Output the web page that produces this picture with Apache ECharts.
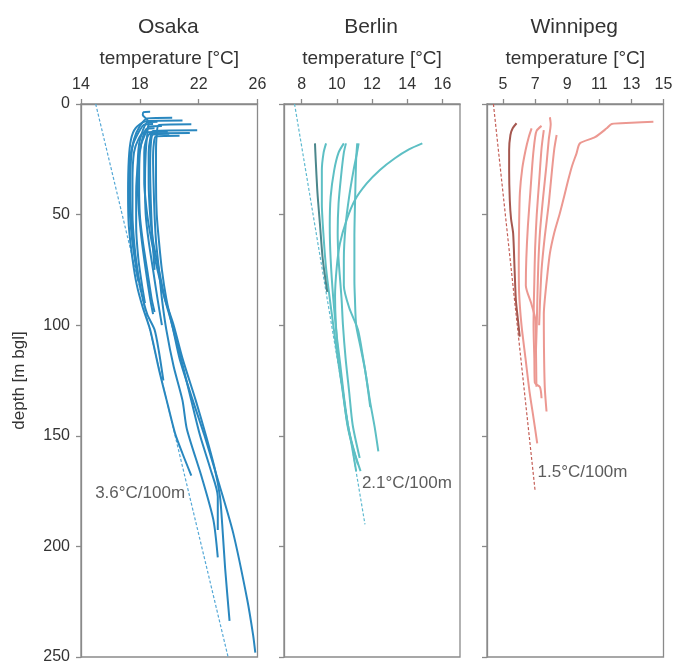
<!DOCTYPE html>
<html>
<head>
<meta charset="utf-8">
<script src="https://cdn.jsdelivr.net/npm/echarts@6/dist/echarts.min.js"></script>
<style>html,body{margin:0;padding:0;background:#fff}#c{width:673px;height:661px}</style>
</head>
<body>
<div id="c"></div>
<script>
// ---------------- data ----------------
const cities = ['Osaka', 'Berlin', 'Winnipeg'];
const depthTicks = [0, 50, 100, 150, 200, 250];
const osakaTicks = [14, 18, 22, 26];
const berlinTicks = [8, 10, 12, 14, 16];
const winnipegTicks = [5, 7, 9, 11, 13, 15];
const tempRanges = [[14, 26], [7, 17], [4, 15]];

// profiles: [temperature °C, depth m]
const osakaProfiles = [
  [[21.9,11.9],[18.9,12.2],[18.7,16],[18.6,22],[18.6,35],[18.7,50],[18.9,62],[19.3,75],[19.7,88],[20.2,100],[20.7,115],[21.6,134],[22.4,150],[23.4,172],[24.35,194],[25.3,224],[25.7,240],[25.85,248]],
  [[21.4,13.1],[18.7,13.4],[18.4,17],[18.3,22],[18.3,35],[18.5,50],[18.8,62],[19.2,75],[19.7,88],[20.3,100],[20.9,115],[21.8,134],[22.5,150],[23.1,165],[23.45,177.5],[23.6,190],[23.8,210],[24.1,233.7]],
  [[20.7,14.3],[19.1,14.6],[18.95,18],[18.9,25],[18.95,40],[19.0,50],[19.1,62],[19.3,75],[19.5,88],[19.8,102],[20.3,118.7],[20.9,134],[21.2,147],[22.2,168.5],[23.0,188],[23.3,205]],
  [[21.5,9.2],[19.3,9.5],[19.15,14],[19.1,22],[19.1,35],[19.15,50],[19.3,62],[19.5,75],[19.8,88],[20.2,100],[20.8,115],[21.5,134],[22.1,150],[22.8,165],[23.3,177.5],[23.3,192.6]],
  [[20.9,7.5],[18.4,7.8],[17.7,11],[17.4,16],[17.25,25],[17.2,40],[17.25,55],[17.5,70],[17.8,82],[18.2,92],[18.7,102],[19.3,120],[19.9,136],[20.4,149],[20.9,158],[21.5,168]],
  [[20.2,6.2],[18.5,6.5],[18.0,10],[17.6,16],[17.4,25],[17.35,40],[17.45,55],[17.7,70],[18.1,85],[18.5,95],[19.0,102],[19.3,112],[19.6,125]],
  [[18.7,3.5],[18.25,3.7],[18.2,5],[18.5,7],[18.6,9],[18.4,13],[18.1,18],[17.9,25],[17.75,40],[17.75,55],[17.9,70],[18.15,82],[18.35,90]],
  [[19.9,12.5],[18.3,12.8],[17.9,16],[17.6,22],[17.5,35],[17.5,50],[17.65,65],[17.9,78],[18.1,85]],
  [[19.5,10],[18.6,10.3],[18.5,14],[18.4,22],[18.35,35],[18.4,50],[18.6,62],[18.9,75],[19.2,88],[19.5,100]],
  [[19.2,8],[18.5,8.3],[18.2,12],[17.95,18],[17.85,30],[17.9,45],[18.1,60],[18.4,75],[18.7,88],[18.9,95]],
  [[20.0,13.5],[18.9,13.8],[18.75,18],[18.7,28],[18.75,45],[18.85,60],[19.0,75]],
  [[19.0,11],[18.45,11.3],[18.2,15],[18.0,22],[17.95,35],[18.0,50],[18.2,62],[18.5,75],[18.8,88],[19.0,94]],
  [[18.9,9],[18.3,9.3],[17.9,13],[17.5,19],[17.3,28],[17.3,45],[17.45,60],[17.7,72],[17.9,80]]
];
const berlinProfiles = [
  [[9.39,17.8],[9.25,22],[9.15,30],[9.15,45],[9.25,60],[9.4,75],[9.6,88],[9.8,100],[10.0,112],[10.3,128],[10.55,142],[10.8,152],[11.1,166]],
  [[10.4,17.8],[10.1,22],[9.85,30],[9.65,42],[9.6,55],[9.65,70],[9.8,88],[10.0,105],[10.2,118],[10.45,135],[10.7,148],[11.2,163]],
  [[10.52,17.8],[10.4,22],[10.25,32],[10.1,45],[10.05,58],[10.1,70],[10.27,88],[10.35,100],[10.5,115],[10.7,130],[10.9,145],[11.3,160]],
  [[11.16,17.8],[11.1,25],[11.05,40],[11.0,60],[11.0,80],[11.03,88],[11.1,100],[11.35,110],[11.6,120],[11.9,135],[12.15,146],[12.36,157]],
  [[11.24,17.8],[11.15,22],[10.95,30],[10.7,42],[10.5,55],[10.4,70],[10.4,82],[10.7,92],[11.2,102],[11.5,115],[11.7,125],[11.9,137]],
  [[14.86,17.8],[14.1,20.5],[13.3,24.5],[12.45,29.8],[11.7,35.9],[11.03,43.4],[10.56,52.4],[10.18,63],[10.0,73.5],[9.9,87],[9.95,100],[10.1,115],[10.35,130],[10.6,145],[10.9,155],[11.35,166]]
];
const berlinDarkProfile = [[8.76,17.8],[8.8,25],[8.9,40],[9.05,55],[9.2,70],[9.46,85]];
const winnipegProfiles = [
  [[6.78,11],[6.6,15],[6.4,21],[6.2,29],[6.05,40],[6.0,55],[5.98,70],[6.0,85],[6.15,100],[6.4,115],[6.65,130],[6.9,142],[7.13,153.4]],
  [[7.4,9.9],[7.1,12],[7.0,15],[6.85,25],[6.7,40],[6.55,55],[6.45,70],[6.42,82],[6.75,90],[7.0,97],[7.05,110],[7.08,127.8]],
  [[7.54,11.8],[7.4,20],[7.25,35],[7.1,50],[7.0,65],[6.95,80],[6.9,100],[6.95,115],[6.98,126],[7.3,128],[7.4,133]],
  [[7.92,6],[7.97,9],[7.85,16],[7.7,28],[7.5,42],[7.3,58],[7.2,72],[7.15,85],[7.1,100],[7.05,112]],
  [[8.34,14],[8.2,20],[8.05,30],[7.85,45],[7.6,60],[7.4,75],[7.3,90],[7.25,100]],
  [[14.37,8],[13.0,8.5],[11.77,9],[11.46,11],[10.73,15],[9.79,17.8],[9.58,22.3],[9.3,28],[9.06,34.4],[8.8,42],[8.54,49.4],[8.2,58],[7.92,67.5],[7.75,78],[7.6,88.6],[7.54,95],[7.55,110],[7.6,128],[7.71,139]]
];
const winnipegDarkProfile = [[5.84,8.7],[5.6,11],[5.46,14],[5.38,20.8],[5.38,30],[5.42,43.4],[5.5,52],[5.63,58.5],[5.72,75],[5.8,88.6],[5.92,97],[6.04,105.2]];

// geothermal gradient reference lines (endpoints)
const osakaGradient = [[15.0, 0], [24.0, 250]];
const berlinGradient = [[7.6, 0], [11.6, 190]];
const winnipegGradient = [[4.4, 0], [7.0, 175]];
const gradientLabels = ['3.6°C/100m', '2.1°C/100m', '1.5°C/100m'];
const gradientLabelAnchors = [[21.35, 176], [11.2, 171.5], [6.9, 166.7]];

// ---------------- chart ----------------
const FONT = "'Liberation Sans', Arial, Helvetica, sans-serif";
const TXT = '#333';
const AX = '#8a8a8a';
const grids = [
  {left: 81, top: 104, width: 176.5, height: 553},
  {left: 284, top: 104, width: 176, height: 553},
  {left: 487, top: 104, width: 176.5, height: 553}
];
const tickSets = [osakaTicks, berlinTicks, winnipegTicks];
const colors = ['#2987bf', '#5dbfc4', '#ec9891'];
const darkColors = [null, '#4b878c', '#a5574f'];
const dashColors = ['#55a8d6', '#5fbad0', '#c45f57'];

const xAxes = grids.map((g, i) => ({
  type: 'value', gridIndex: i, position: 'top',
  min: tempRanges[i][0], max: tempRanges[i][1],
  name: 'temperature [°C]', nameLocation: 'middle', nameGap: 36,
  nameTextStyle: {fontSize: 19, color: TXT, fontFamily: FONT},
  axisLine: {show: true, lineStyle: {color: AX, width: 1.3}},
  axisTick: {show: true, inside: false, length: 5, customValues: tickSets[i], lineStyle: {color: AX, width: 1.3}},
  axisLabel: {show: true, customValues: tickSets[i], margin: 11, fontSize: 16, color: TXT, fontFamily: FONT},
  splitLine: {show: false}
}));
const yAxes = grids.map((g, i) => ({
  type: 'value', gridIndex: i, inverse: true, min: 0, max: 250, interval: 50,
  name: i === 0 ? 'depth [m bgl]' : '', nameLocation: 'middle', nameGap: 53,
  nameTextStyle: {fontSize: 17, color: TXT, fontFamily: FONT},
  axisLine: {show: true, lineStyle: {color: AX, width: 1.3}},
  axisTick: {show: true, length: 5, lineStyle: {color: AX, width: 1.3}},
  axisLabel: {show: i === 0, margin: 11, fontSize: 16, color: TXT, fontFamily: FONT},
  splitLine: {show: false}
}));

const series = [];
function addProfiles(list, gi, color, width) {
  list.forEach(p => series.push({
    type: 'line', xAxisIndex: gi, yAxisIndex: gi, data: p, showSymbol: false,
    smooth: 0.25, lineStyle: {color: color, width: width}, silent: true, z: 3
  }));
}
const gradients = [osakaGradient, berlinGradient, winnipegGradient];
gradients.forEach((gr, gi) => series.push({
  type: 'line', xAxisIndex: gi, yAxisIndex: gi, data: gr, showSymbol: false,
  lineStyle: {color: dashColors[gi], width: 1.2, type: [3, 2]}, silent: true, z: 2
}));
addProfiles(osakaProfiles, 0, colors[0], 2);
addProfiles(berlinProfiles, 1, colors[1], 2);
addProfiles([berlinDarkProfile], 1, darkColors[1], 2);
addProfiles(winnipegProfiles, 2, colors[2], 2);
addProfiles([winnipegDarkProfile], 2, darkColors[2], 2);
gradientLabelAnchors.forEach((a, gi) => series.push({
  type: 'scatter', xAxisIndex: gi, yAxisIndex: gi, data: [a], symbolSize: 0, silent: true,
  label: {show: true, position: gi === 0 ? 'left' : 'right', distance: 4, formatter: gradientLabels[gi],
    fontSize: 17, color: TXT, fontFamily: FONT}, z: 5
}));

const graphic = grids.map((g, i) => ({
  type: 'text', x: g.left + g.width / 2 - 1, y: 27,
  style: {text: cities[i], fontSize: 21, fill: TXT, font: "21px " + FONT, align: 'center', verticalAlign: 'middle'}
}));

const chart = echarts.init(document.getElementById('c'), null, {renderer: 'canvas'});
chart.setOption({
  animation: false,
  backgroundColor: '#fff',
  textStyle: {fontFamily: FONT},
  grid: grids.map(g => Object.assign({show: true, borderColor: AX, borderWidth: 1.3, backgroundColor: 'transparent', containLabel: false, outerBoundsMode: 'none'}, g)),
  xAxis: xAxes, yAxis: yAxes, series: series, graphic: graphic
});
</script>
</body>
</html>
